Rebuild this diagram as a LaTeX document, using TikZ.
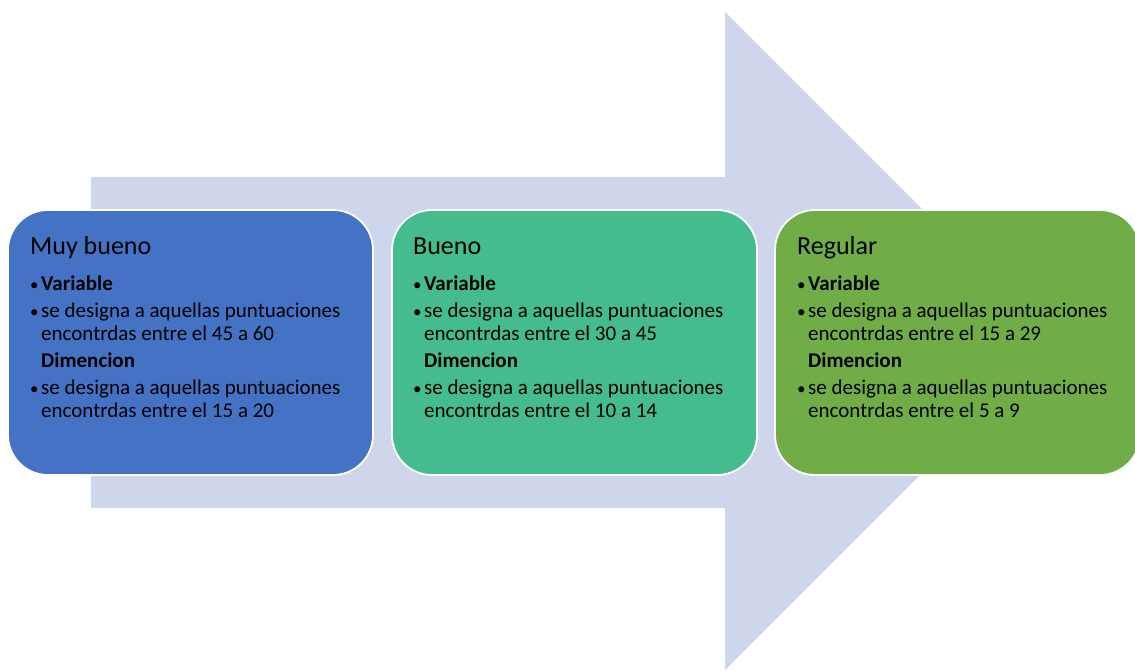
\documentclass[tikz,border=0pt]{standalone}
\usepackage{fontspec}
\setmainfont{Carlito}
\definecolor{arrowfill}{HTML}{CFD5EA}
\definecolor{boxblue}{HTML}{4472C4}
\definecolor{boxteal}{HTML}{44BC8D}
\definecolor{boxgreen}{HTML}{70AD47}
\newcommand{\bul}{\makebox[11pt][l]{\fontsize{17}{17}\selectfont\textbullet}}
\newcommand{\boxbody}[4]{%
  \begin{tabular}[t]{@{}l@{}l@{}}
  \bul & \textbf{Variable}\\[4pt]
  \bul & se designa a aquellas puntuaciones\\
       & encontrdas entre el #1 a #2\\[4pt]
       & \textbf{Dimencion}\\[4pt]
  \bul & se designa a aquellas puntuaciones\\
       & encontrdas entre el #3 a #4
  \end{tabular}}
\begin{document}
\begin{tikzpicture}[x=1pt,y=-1pt,
  card/.style={draw=white, line width=1.8pt, rounded corners=40pt,
    minimum width=365pt, minimum height=265pt, inner sep=0pt},
  cardtitle/.style={anchor=base west, inner sep=0pt, font=\fontsize{26}{30}\selectfont},
  cardbody/.style={anchor=base west, inner sep=0pt, font=\fontsize{21}{23}\selectfont}]
\useasboundingbox (0,0) rectangle (1135,670);
\fill[arrowfill] (91,177) -- (725,177) -- (725,12) -- (1054,341) -- (725,670) -- (725,508) -- (91,508) -- cycle;
\node[card, fill=boxblue] (b1) at (190.5,342.5) {};
\node[card, fill=boxteal] (b2) at (574.5,342.5) {};
\node[card, fill=boxgreen] (b3) at (957.5,342.5) {};
\node[cardtitle] (t1) at (30,254) {Muy bueno};
\node[cardtitle] (t2) at (413,254) {Bueno};
\node[cardtitle] (t3) at (797,254) {Regular};
\node[cardbody] (c1) at (30,290) {\boxbody{45}{60}{15}{20}};
\node[cardbody] (c2) at (413,290) {\boxbody{30}{45}{10}{14}};
\node[cardbody] (c3) at (797,290) {\boxbody{15}{29}{5}{9}};
\end{tikzpicture}
\end{document}
